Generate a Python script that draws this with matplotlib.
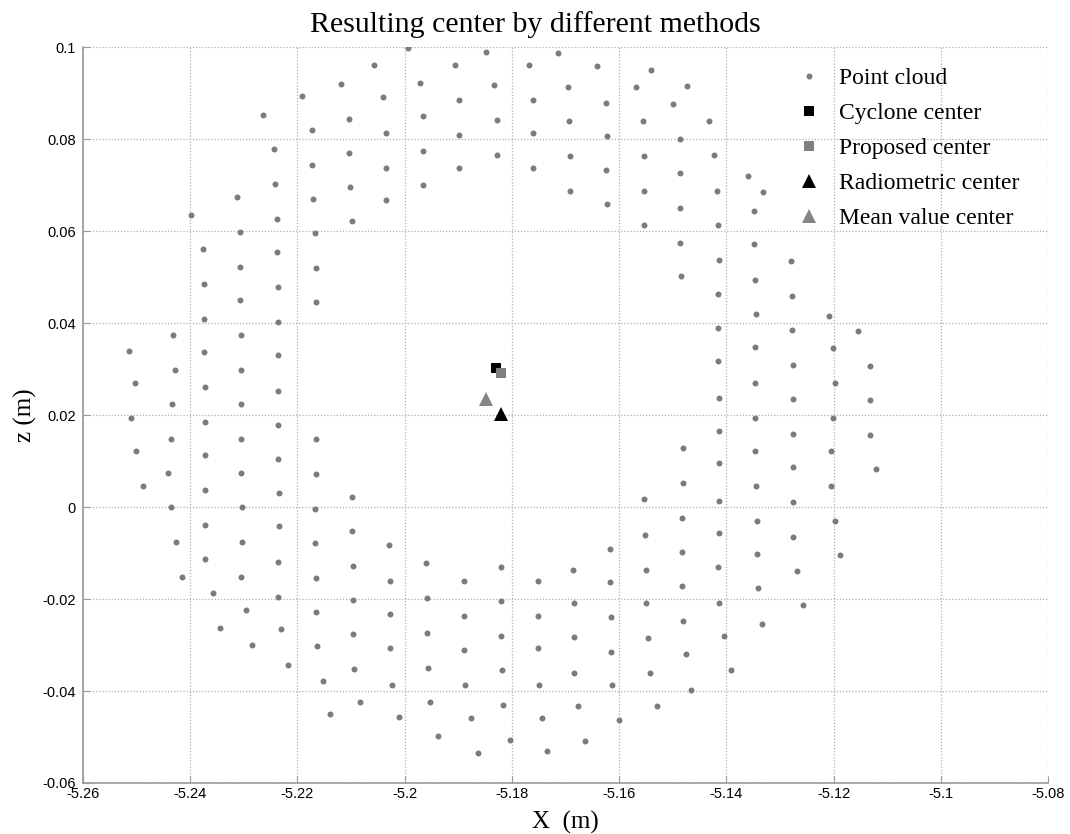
import matplotlib as mpl
mpl.use('Agg')
import matplotlib.pyplot as plt

# point cloud (x, z) in metres
cloud_x = [
    -5.2057, -5.2118, -5.2192, -5.2265, -5.2104, -5.2173, -5.2244, -5.2104, -5.2173, -5.2242,
    -5.2313, -5.2102, -5.2171, -5.2399, -5.2239, -5.2099, -5.2308, -5.2168, -5.2377, -5.2239,
    -5.2308, -5.2166, -5.2374, -5.2237,
    -5.1994, -5.1848, -5.1907, -5.1714, -5.1769, -5.1641, -5.1971, -5.1833, -5.2040, -5.1898,
    -5.1696, -5.1760, -5.1624, -5.1966, -5.1828, -5.1693, -5.2035, -5.1898, -5.1760, -5.1622,
    -5.1966, -5.1828, -5.1691, -5.2035, -5.1898, -5.1760, -5.1624, -5.1966, -5.1691, -5.2035,
    -5.1622,
    -5.1541, -5.1568, -5.1474, -5.1499, -5.1556, -5.1432, -5.1487, -5.1553, -5.1423, -5.1487,
    -5.1553, -5.1418, -5.1359, -5.1332, -5.1487, -5.1553, -5.1415, -5.1349, -5.1487, -5.1413,
    -5.1349, -5.1280, -5.1484, -5.1347,
    -5.2308, -5.2166, -5.2374, -5.2237, -5.2432, -5.2306, -5.2514, -5.2374, -5.2237, -5.2429,
    -5.2306, -5.2503, -5.2372, -5.2237, -5.2434, -5.2306, -5.2510, -5.2372, -5.2237, -5.2436,
    -5.2306, -5.2166, -5.2501, -5.2372, -5.2237, -5.2441, -5.2306, -5.2166, -5.2489, -5.2372,
    -5.2234, -5.2099, -5.2436, -5.2303, -5.2168, -5.2372, -5.2234,
    -5.1415, -5.1278, -5.1344, -5.1208, -5.1415, -5.1278, -5.1155, -5.1347, -5.1201, -5.1415,
    -5.1275, -5.1132, -5.1347, -5.1198, -5.1413, -5.1275, -5.1132, -5.1347, -5.1201, -5.1413,
    -5.1275, -5.1132, -5.1480, -5.1347, -5.1205, -5.1413, -5.1275, -5.1121, -5.1480, -5.1344,
    -5.1205, -5.1553, -5.1413, -5.1275, -5.1482, -5.1342, -5.1198,
    -5.2099, -5.2426, -5.2303, -5.2168, -5.2372, -5.2237, -5.2097, -5.2415, -5.2306, -5.2166,
    -5.2358, -5.2237, -5.2097, -5.2296, -5.2166, -5.2344, -5.2230, -5.2097, -5.2285, -5.2164,
    -5.2218, -5.2095, -5.2152, -5.2083, -5.2140,
    -5.2030, -5.1961, -5.1821, -5.2028, -5.1890, -5.1617, -5.1686, -5.1752, -5.1617, -5.1959,
    -5.1821, -5.1684, -5.2028, -5.1890, -5.1752, -5.1615, -5.1959, -5.1821, -5.1684, -5.2028,
    -5.1890, -5.1752, -5.1615, -5.1957, -5.1819, -5.1684, -5.2023, -5.1888, -5.1750, -5.1613,
    -5.1952, -5.1817, -5.1677, -5.2011, -5.1876, -5.1743, -5.1601, -5.1938, -5.1803, -5.1663,
    -5.1863, -5.1734,
    -5.1552, -5.1413, -5.1275, -5.1482, -5.1342, -5.1188, -5.1549, -5.1415, -5.1268, -5.1482,
    -5.1340, -5.1549, -5.1413, -5.1257, -5.1480, -5.1333, -5.1546, -5.1405, -5.1475, -5.1542,
    -5.1392, -5.1466, -5.1530,
]
cloud_z = [
    0.0962, 0.0920, 0.0894, 0.0852, 0.0844, 0.0821, 0.0779, 0.0771, 0.0745, 0.0703,
    0.0675, 0.0696, 0.0670, 0.0635, 0.0627, 0.0622, 0.0598, 0.0596, 0.0562, 0.0554,
    0.0523, 0.0520, 0.0486, 0.0479,
    0.0999, 0.0990, 0.0962, 0.0988, 0.0962, 0.0959, 0.0923, 0.0917, 0.0892, 0.0886,
    0.0913, 0.0886, 0.0878, 0.0850, 0.0842, 0.0839, 0.0813, 0.0810, 0.0813, 0.0808,
    0.0774, 0.0766, 0.0763, 0.0738, 0.0738, 0.0738, 0.0733, 0.0701, 0.0688, 0.0667,
    0.0659,
    0.0951, 0.0913, 0.0915, 0.0876, 0.0839, 0.0839, 0.0800, 0.0764, 0.0766, 0.0727,
    0.0688, 0.0688, 0.0719, 0.0685, 0.0651, 0.0614, 0.0614, 0.0643, 0.0575, 0.0538,
    0.0573, 0.0536, 0.0502, 0.0494,
    0.0450, 0.0445, 0.0410, 0.0402, 0.0375, 0.0375, 0.0340, 0.0338, 0.0330, 0.0298,
    0.0298, 0.0270, 0.0262, 0.0253, 0.0225, 0.0225, 0.0194, 0.0186, 0.0178, 0.0149,
    0.0149, 0.0147, 0.0121, 0.0113, 0.0105, 0.0074, 0.0074, 0.0071, 0.0045, 0.0037,
    0.0030, 0.0022, 0.0001, 0.0001, -0.0004, -0.0038, -0.0041,
    0.0463, 0.0460, 0.0419, 0.0416, 0.0389, 0.0385, 0.0382, 0.0348, 0.0345, 0.0317,
    0.0309, 0.0306, 0.0270, 0.0270, 0.0238, 0.0235, 0.0233, 0.0194, 0.0194, 0.0165,
    0.0160, 0.0157, 0.0129, 0.0123, 0.0121, 0.0095, 0.0087, 0.0082, 0.0053, 0.0045,
    0.0045, 0.0017, 0.0014, 0.0012, -0.0023, -0.0030, -0.0030,
    -0.0052, -0.0075, -0.0075, -0.0078, -0.0112, -0.0120, -0.0128, -0.0151, -0.0151, -0.0154,
    -0.0187, -0.0196, -0.0203, -0.0224, -0.0229, -0.0263, -0.0266, -0.0276, -0.0300, -0.0302,
    -0.0343, -0.0352, -0.0378, -0.0425, -0.0451,
    -0.0083, -0.0122, -0.0130, -0.0161, -0.0161, -0.0091, -0.0136, -0.0161, -0.0164, -0.0198,
    -0.0205, -0.0208, -0.0232, -0.0237, -0.0237, -0.0240, -0.0273, -0.0281, -0.0283, -0.0307,
    -0.0310, -0.0307, -0.0315, -0.0349, -0.0354, -0.0360, -0.0386, -0.0386, -0.0386, -0.0388,
    -0.0423, -0.0430, -0.0433, -0.0457, -0.0459, -0.0459, -0.0464, -0.0498, -0.0506, -0.0508,
    -0.0534, -0.0531,
    -0.0060, -0.0057, -0.0065, -0.0097, -0.0102, -0.0104, -0.0136, -0.0130, -0.0138, -0.0172,
    -0.0177, -0.0208, -0.0208, -0.0214, -0.0248, -0.0255, -0.0284, -0.0281, -0.0320, -0.0360,
    -0.0354, -0.0397, -0.0433,
]

# centres found by each method
cyclone_center = (-5.1830, 0.0303)
proposed_center = (-5.1820, 0.0292)
radiometric_center = (-5.1820, 0.0203)
mean_center = (-5.1849, 0.0235)

x_ticks = [-5.26, -5.24, -5.22, -5.2, -5.18, -5.16, -5.14, -5.12, -5.1, -5.08]
z_ticks = [-0.06, -0.04, -0.02, 0, 0.02, 0.04, 0.06, 0.08, 0.1]

serif = ['Liberation Serif', 'DejaVu Serif']
sans = ['Liberation Sans', 'DejaVu Sans']

fig = plt.figure(figsize=(10.7, 8.34), dpi=100)
ax = fig.add_axes([0.0776, 0.0612, 0.9018, 0.8821])

ax.plot(cloud_x, cloud_z, linestyle='none', marker='o', markersize=4.3,
        color='#7b7b7b', markeredgewidth=0, label='Point cloud')
ax.plot(*cyclone_center, linestyle='none', marker='s', markersize=7.5,
        color='black', markeredgewidth=0, label='Cyclone center')
ax.plot(*proposed_center, linestyle='none', marker='s', markersize=7.5,
        color='#808080', markeredgewidth=0, label='Proposed center')
ax.plot(*radiometric_center, linestyle='none', marker='^', markersize=10,
        color='black', markeredgewidth=0, label='Radiometric center')
ax.plot(*mean_center, linestyle='none', marker='^', markersize=10,
        color='#858585', markeredgewidth=0, label='Mean value center')

ax.set_xlim(-5.26, -5.08)
ax.set_ylim(-0.06, 0.1)
ax.set_xticks(x_ticks)
ax.set_xticklabels([f'{t:g}' for t in x_ticks], family=sans, fontsize=10.5)
ax.set_yticks(z_ticks)
ax.set_yticklabels([f'{t:g}' for t in z_ticks], family=sans, fontsize=10.5)
ax.tick_params(direction='in', length=5, color='#9a9a9a')
ax.tick_params(axis='x', pad=3)
ax.tick_params(axis='y', pad=5)

ax.grid(True, linestyle=(0, (1, 1.5)), color='#b0b0b0', linewidth=0.9)
for side in ['top', 'right']:
    ax.spines[side].set_visible(False)
for side in ['left', 'bottom']:
    ax.spines[side].set_color('#9a9a9a')
    ax.spines[side].set_linewidth(1.2)

# title is centred on the figure, not the axes
fig.suptitle('Resulting center by different methods', family=serif, fontsize=21.5,
             x=0.5, y=0.987, va='top')
ax.set_xlabel('X  (m)', family=serif, fontsize=18, labelpad=7)
ax.set_ylabel('z (m)', family=serif, fontsize=18, labelpad=4)

ax.legend(loc='upper left', bbox_to_anchor=(0.73, 0.985), frameon=False,
          prop={'family': serif, 'size': 17}, handlelength=1.0,
          handletextpad=0.8, labelspacing=0.57, borderaxespad=0)

fig.savefig('out.png', dpi=100)
